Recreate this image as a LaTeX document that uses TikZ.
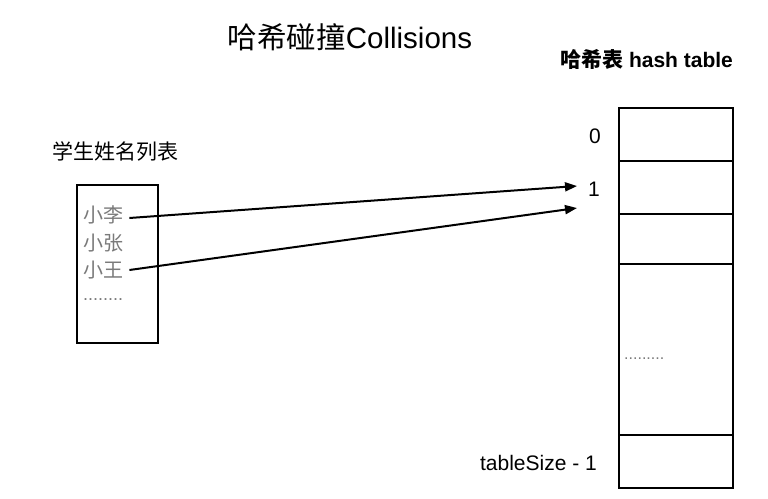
\documentclass[tikz,border=0pt]{standalone}
\usepackage{fontspec}
\setmainfont{Liberation Sans}
\newfontfamily\cjk{Noto Sans CJK SC}
\usetikzlibrary{arrows.meta}
\definecolor{namegray}{HTML}{7A7A7A}
\tikzset{
  cell/.style={draw=black, line width=2pt, minimum width=114pt, inner sep=0pt},
  lbl/.style={inner sep=0pt, font=\fontsize{21}{24}\selectfont},
  stname/.style={inner sep=0pt, text=namegray, font=\cjk\fontsize{20}{24}\selectfont, anchor=west},
  conn/.style={line width=2pt, -{Triangle[length=12pt,width=9pt]}}
}
\begin{document}
\begin{tikzpicture}[x=1pt,y=-1pt]
\useasboundingbox[fill=white] (0,0) rectangle (768,498);
% titles
\node[inner sep=0pt, font=\fontsize{29.5}{32}\selectfont] (title) at (350,37) {{\cjk 哈希碰撞}Collisions};
\node[inner sep=0pt, anchor=west, font=\bfseries\fontsize{21}{24}\selectfont] (htitle) at (560,59) {{\cjk\bfseries 哈希表} hash table};
\node[inner sep=0pt, anchor=west, font=\cjk\fontsize{21}{24}\selectfont] (stitle) at (52,151) {学生姓名列表};
% student list box
\node[draw=black, line width=2pt, minimum width=81pt, minimum height=158pt, inner sep=0pt] (list) at (117.5,264) {};
\node[stname] (li) at (83,215) {小李};
\node[stname] (zhang) at (83,243) {小张};
\node[stname] (wang) at (83,270) {小王};
\node[inner sep=0pt, anchor=west, text=namegray, font=\fontsize{18}{20}\selectfont] (ldots) at (83,300) {........};
% hash table
\node[cell, minimum height=53pt] (r0) at (676,134.5) {};
\node[cell, minimum height=53pt] (r1) at (676,187.5) {};
\node[cell, minimum height=50pt] (r2) at (676,239) {};
\node[cell, minimum height=171pt] (r3) at (676,349.5) {};
\node[cell, minimum height=53pt] (r4) at (676,461.5) {};
\node[inner sep=0pt, anchor=west, text=namegray, font=\fontsize{16}{18}\selectfont] (tdots) at (624,359) {.........};
% index labels
\node[lbl] (i0) at (595,136) {0};
\node[lbl] (i1) at (594,189) {1};
\node[lbl, anchor=east] (ilast) at (597,463) {tableSize - 1};
% connectors
\coordinate (t1) at (577,186);
\coordinate (t2) at (577,208);
\path (li.east) ++(6,3) coordinate (s1);
\path (wang.east) ++(6,0) coordinate (s2);
\draw[conn] (s1) -- (t1);
\draw[conn] (s2) -- (t2);
\end{tikzpicture}
\end{document}
